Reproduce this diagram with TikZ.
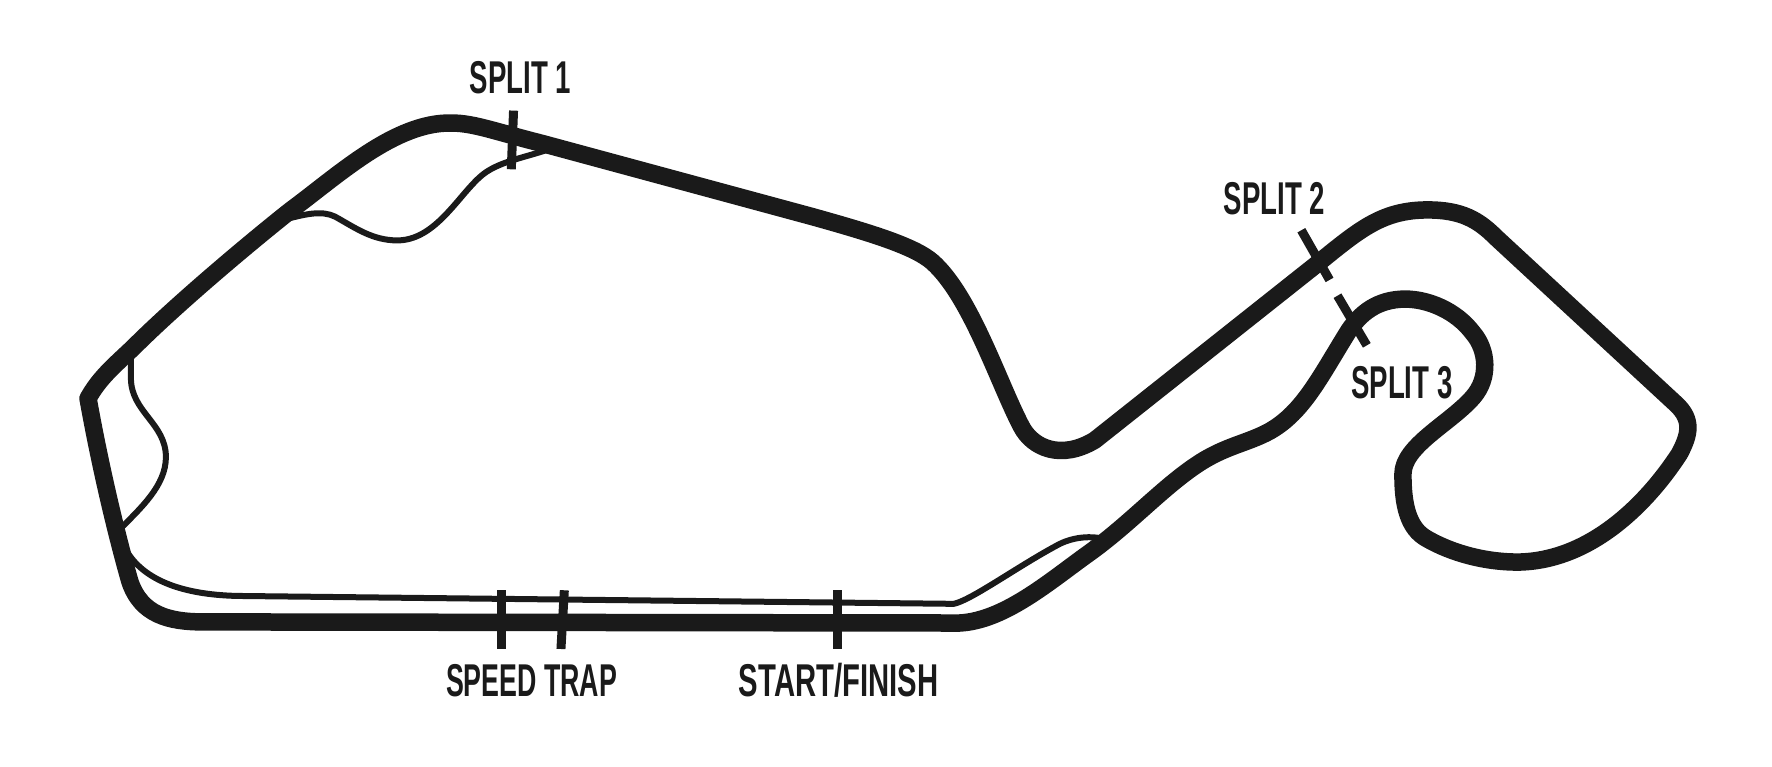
\documentclass[tikz,border=0pt]{standalone}
\usepackage{fontspec}
\setmainfont[FakeStretch=0.6]{Liberation Sans}
\definecolor{ink}{HTML}{1A1A1A}
\tikzset{
 track/.style={draw=ink,line width=17.5pt,line join=round,line cap=round},
 lap/.style={draw=ink,line width=6pt,line cap=butt},
 tick/.style={draw=ink,line width=9pt},
 lbl/.style={text=ink,font=\fontsize{46}{46}\selectfont\bfseries,inner sep=0pt}
}
\begin{document}
\begin{tikzpicture}[x=1.1287pt,y=-1.1287pt]
\useasboundingbox (0,0) rectangle (1570,679.5);
\draw[track] (78,353) .. controls (88,335) and (100,325) .. (118,308)
 .. controls (160,266) and (230,208) .. (258,186)
 .. controls (300,155) and (350,108) .. (400,109)
 .. controls (420,109) and (440,117) .. (480,127)
 -- (720,192)
 .. controls (770,206) and (810,218) .. (826,232)
 .. controls (860,262) and (885,340) .. (905,378)
 .. controls (915,397) and (940,408) .. (970,390)
 -- (1168,233)
 .. controls (1205,203) and (1225,186) .. (1265,186)
 .. controls (1295,186) and (1310,195) .. (1325,210)
 -- (1485,358)
 .. controls (1500,372) and (1497,385) .. (1488,402)
 .. controls (1460,445) and (1410,497) .. (1345,498)
 .. controls (1310,498) and (1280,487) .. (1262,476)
 .. controls (1245,465) and (1243,440) .. (1243,420)
 .. controls (1243,395) and (1285,375) .. (1305,352)
 .. controls (1320,335) and (1318,310) .. (1305,295)
 .. controls (1290,275) and (1265,265) .. (1245,265)
 .. controls (1220,265) and (1205,278) .. (1195,293)
 .. controls (1170,333) and (1155,365) .. (1125,382)
 .. controls (1105,393) and (1085,395) .. (1060,412)
 .. controls (1030,432) and (1000,465) .. (965,490)
 .. controls (930,515) and (890,550) .. (850,552)
 -- (180,551)
 .. controls (150,551) and (125,545) .. (115,515)
 .. controls (105,480) and (90,420) .. (78,353);
\draw[lap] (254,194) .. controls (270,190) and (285,186) .. (297,192)
 .. controls (315,202) and (330,213) .. (352,213)
 .. controls (385,213) and (405,175) .. (425,157)
 .. controls (440,143) and (465,140) .. (490,131);
\draw[lap] (116,310) -- (116,335)
 .. controls (116,365) and (147,375) .. (147,405)
 .. controls (147,430) and (125,450) .. (105,470);
\draw[lap] (112,488) .. controls (130,518) and (170,527) .. (210,528)
 -- (845,535)
 .. controls (860,532) and (900,503) .. (935,484)
 .. controls (945,478) and (960,474) .. (976,477);
\coordinate (s1a) at (455,98); \coordinate (s1b) at (453,150);
\coordinate (s2a) at (1153,204); \coordinate (s2b) at (1178,248);
\coordinate (s3a) at (1185,262); \coordinate (s3b) at (1211,306);
\coordinate (t1a) at (444,523); \coordinate (t1b) at (444,575);
\coordinate (t2a) at (500,523); \coordinate (t2b) at (497,575);
\coordinate (t3a) at (742,523); \coordinate (t3b) at (742,575);
\draw[tick] (s1a) -- (s1b);
\draw[tick] (s2a) -- (s2b);
\draw[tick] (s3a) -- (s3b);
\draw[tick] (t1a) -- (t1b);
\draw[tick] (t2a) -- (t2b);
\draw[tick] (t3a) -- (t3b);
\node[lbl] (split1) at (461,69) {SPLIT 1};
\node[lbl] (split2) at (1129,176) {SPLIT 2};
\node[lbl] (split3) at (1242,339) {SPLIT 3};
\node[lbl,xscale=0.97,transform shape] (trap) at (471,603) {SPEED TRAP};
\node[lbl,xscale=1.06,transform shape] (finish) at (743,603) {START/FINISH};
\end{tikzpicture}
\end{document}
